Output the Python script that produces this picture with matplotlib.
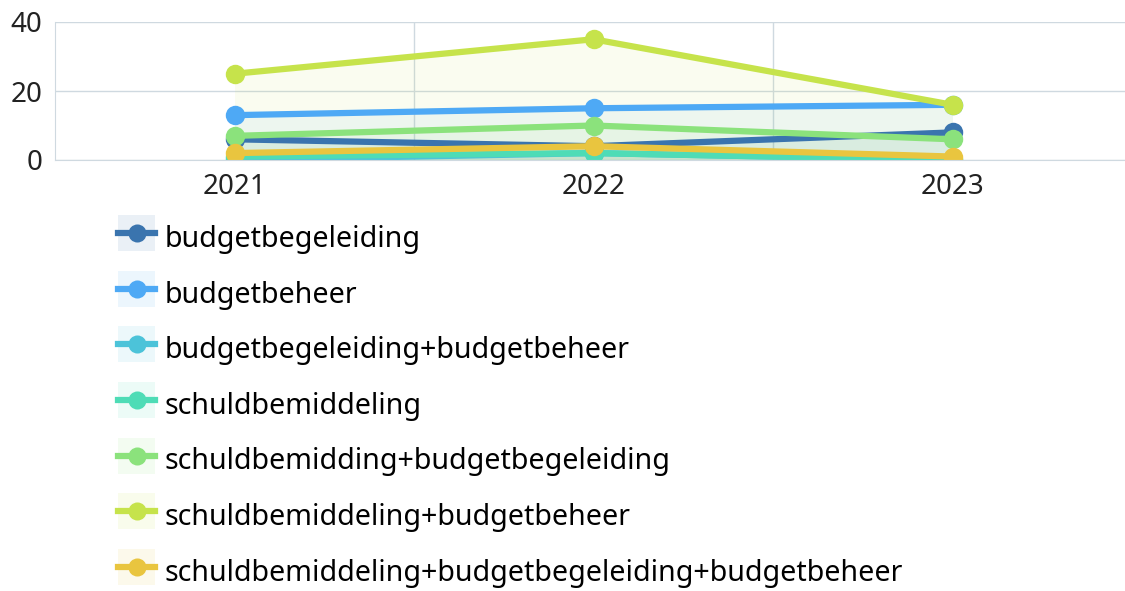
import numpy as np
import matplotlib
matplotlib.use("Agg")
import matplotlib.pyplot as plt
from matplotlib.legend_handler import HandlerBase
from matplotlib.patches import Rectangle
from matplotlib.lines import Line2D

plt.rcParams['font.family'] = ['Noto Sans', 'DejaVu Sans']

years = ["2021", "2022", "2023"]
labels = [
    "budgetbegeleiding",
    "budgetbeheer",
    "budgetbegeleiding+budgetbeheer",
    "schuldbemiddeling",
    "schuldbemidding+budgetbegeleiding",
    "schuldbemiddeling+budgetbeheer",
    "schuldbemiddeling+budgetbegeleiding+budgetbeheer",
]
budgetbegeleiding = [6, 4, 8]
budgetbeheer = [13, 15, 16]
bb_combi = [0, 2, 0]
schuldbemiddeling = [1, 2, 0]
sb_begeleiding = [7, 10, 6]
sb_beheer = [25, 35, 16]
sb_alles = [2, 4, 1]
series = [budgetbegeleiding, budgetbeheer, bb_combi, schuldbemiddeling,
          sb_begeleiding, sb_beheer, sb_alles]
colors = ["#3a74ae", "#4ea9f5", "#4cc3d9", "#4edcb6", "#8be27c", "#c6e34b", "#e9c53f"]
yticks = [0, 20, 40]


class IconHandler(HandlerBase):
    # legend icon: pale square behind a short line with a dot
    def create_artists(self, legend, orig, xd, yd, w, h, fontsize, trans):
        c = orig.get_color()
        cy = yd + h / 2
        box = Rectangle((xd, cy - 13), w, 26, facecolor=c, alpha=0.1,
                        edgecolor="none", transform=trans)
        ln = Line2D([xd, xd + w], [cy, cy], color=c, lw=4.5, transform=trans)
        mk = Line2D([xd + w / 2], [cy], marker="o", ms=13, color=c,
                    markeredgewidth=0, transform=trans)
        return [box, ln, mk]


fig = plt.figure(figsize=(11.25, 5.91), dpi=100)
ax = fig.add_axes([55 / 1125, 1 - 160 / 591, 1077 / 1125, 138 / 591])

x = np.arange(len(years))
handles = []
for vals, col, lab in zip(series, colors, labels):
    ax.fill_between(x, 0, vals, color=col, alpha=0.08, lw=0)
    h, = ax.plot(x, vals, color=col, lw=4.5, marker="o", ms=14,
                 markeredgewidth=0, label=lab, solid_capstyle="round")
    handles.append(h)

ax.set_xlim(-0.5, 2.5)
ax.set_ylim(0, 40)
ax.set_yticks(yticks)
ax.set_xticks(x)
ax.set_xticklabels(years)
ax.set_xticks([0.5, 1.5], minor=True)
ax.tick_params(which="both", length=0, labelsize=20, colors="#222222")
ax.tick_params(axis="x", pad=9)
ax.tick_params(axis="y", pad=9)
ax.grid(axis="y", color="#cfd9e0", lw=1)
ax.grid(axis="x", which="minor", color="#cfd9e0", lw=1)
ax.set_axisbelow(True)
for s in ["top", "right"]:
    ax.spines[s].set_visible(False)
ax.spines["left"].set_color("#cfd9e0")
ax.spines["bottom"].set_color("#cfd9e0")
for lab in ax.get_xticklabels() + ax.get_yticklabels():
    lab.set_color("#222222")

fig.legend(handles=handles, labels=labels, loc="upper left",
           bbox_to_anchor=(118 / 1125, 1 - 225 / 591), frameon=False,
           fontsize=20.6, handler_map={Line2D: IconHandler()},
           handlelength=1.3, handleheight=0.9, handletextpad=0.33,
           labelspacing=0.93, borderaxespad=0, borderpad=0)

fig.savefig("out.png", dpi=100)
